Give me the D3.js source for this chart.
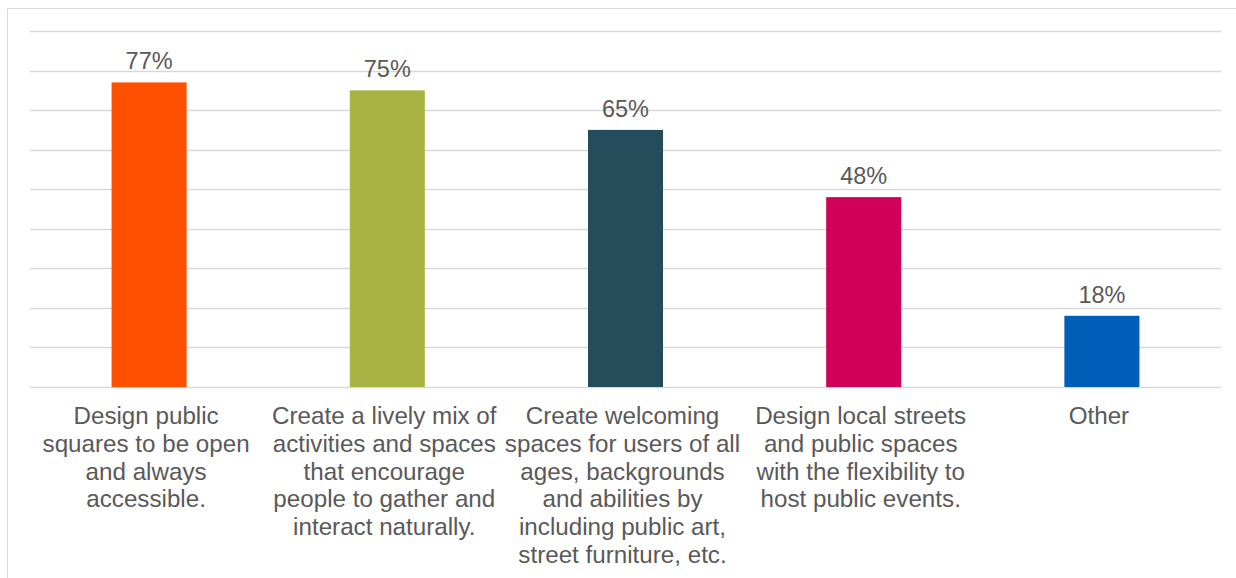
<!DOCTYPE html>
<html>
<head>
<meta charset="utf-8">
<script src="https://cdn.jsdelivr.net/npm/d3@7"></script>
<style>
  html, body { margin: 0; padding: 0; background: #ffffff; }
  svg { display: block; }
</style>
</head>
<body>
<svg id="chart" width="1236" height="578"></svg>
<script>
// Survey responses: share of respondents choosing each design priority
const categories = [
  ["Design public", "squares to be open", "and always", "accessible."],
  ["Create a lively mix of", "activities and spaces", "that encourage", "people to gather and", "interact naturally."],
  ["Create welcoming", "spaces for users of all", "ages, backgrounds", "and abilities by", "including public art,", "street furniture, etc."],
  ["Design local streets", "and public spaces", "with the flexibility to", "host public events."],
  ["Other"]
];
const values = [77, 75, 65, 48, 18];
const barColors = ["#FF5000", "#A8B343", "#244C5A", "#D0005A", "#005EB8"];
const gridTicks = [0, 10, 20, 30, 40, 50, 60, 70, 80, 90];

const svg = d3.select("#chart");
const W = 1236, H = 578;
const plot = { left: 30, right: 1221, top: 31, bottom: 387 };
const textColor = "#595959";
const fontFamily = "'Liberation Sans', Arial, sans-serif";

// outer chart frame (open towards the right / bottom edge)
svg.append("path")
  .attr("d", `M7.5,${H} V8.5 H${W}`)
  .attr("fill", "none")
  .attr("stroke", "#d9d9d9")
  .attr("stroke-width", 1);

const x = d3.scaleBand()
  .domain(d3.range(categories.length))
  .range([plot.left, plot.right])
  .paddingInner(0)
  .paddingOuter(0);

const y = d3.scaleLinear()
  .domain([0, 90])
  .range([plot.bottom, plot.top]);

// horizontal gridlines
svg.append("g")
  .selectAll("line")
  .data(gridTicks)
  .join("line")
  .attr("x1", plot.left)
  .attr("x2", plot.right)
  .attr("y1", d => Math.round(y(d)) + 0.5)
  .attr("y2", d => Math.round(y(d)) + 0.5)
  .attr("stroke", "#d9d9d9")
  .attr("stroke-width", 1.3);

const barW = x.bandwidth() * 0.315;

// bars
svg.append("g")
  .selectAll("rect")
  .data(values)
  .join("rect")
  .attr("x", (d, i) => x(i) + (x.bandwidth() - barW) / 2)
  .attr("y", d => y(d))
  .attr("width", barW)
  .attr("height", d => y(0) - y(d))
  .attr("fill", (d, i) => barColors[i]);

// value labels
svg.append("g")
  .selectAll("text")
  .data(values)
  .join("text")
  .attr("x", (d, i) => x(i) + x.bandwidth() / 2)
  .attr("y", d => y(d) - 13)
  .attr("text-anchor", "middle")
  .attr("font-family", fontFamily)
  .attr("font-size", 23.5)
  .attr("fill", textColor)
  .text(d => d + "%");

// category labels, manually wrapped
const lineH = 27.8;
const labelShift = -3;
const catG = svg.append("g");
categories.forEach((lines, i) => {
  const cx = x(i) + x.bandwidth() / 2 + labelShift;
  const t = catG.append("text")
    .attr("x", cx)
    .attr("y", 424)
    .attr("text-anchor", "middle")
    .attr("font-family", fontFamily)
    .attr("font-size", 24.2)
    .attr("fill", textColor);
  lines.forEach((ln, j) => {
    t.append("tspan")
      .attr("x", cx)
      .attr("y", 424 + j * lineH)
      .text(ln);
  });
});
</script>
</body>
</html>
